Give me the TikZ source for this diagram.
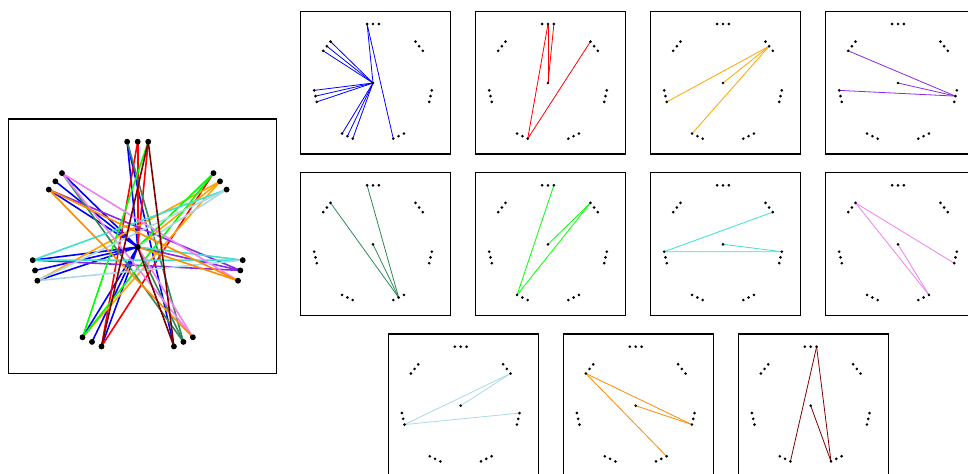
\documentclass[tikz,border=0pt]{standalone}
\definecolor{cBlue}{RGB}{0,0,255}
\definecolor{cRed}{RGB}{255,0,0}
\definecolor{cOrange}{RGB}{255,165,0}
\definecolor{cPurple}{RGB}{138,43,226}
\definecolor{cSea}{RGB}{46,139,87}
\definecolor{cLime}{RGB}{0,255,0}
\definecolor{cTurq}{RGB}{64,224,208}
\definecolor{cViolet}{RGB}{238,130,238}
\definecolor{cLBlue}{RGB}{173,216,230}
\definecolor{cDOrange}{RGB}{255,140,0}
\definecolor{cMaroon}{RGB}{128,0,0}
\tikzset{
  frame/.style={draw=black, line width=0.8pt},
  bigedge/.style={line width=1.2pt},
  smalledge/.style={line width=0.6pt},
}
\def\Eblue{c/60,c/61,c/62,c/50,c/51,c/52,c/40,c/41,c/42,c/00,00/32}
\def\Ered{01/40,01/c,02/c,10/40}
\def\Eorange{11/50,11/c,11/42}
\def\Epurple{21/60,21/c,21/52}
\def\Esea{31/62,31/00,31/c}
\def\Elime{02/42,10/42,10/c}
\def\Eturq{52/12,52/20,c/20}
\def\Eviolet{62/22,62/30,c/30}
\def\Elblue{50/12,50/20,c/12}
\def\Edorange{60/22,60/30,c/22}
\def\Emaroon{02/40,02/32,c/32}
\newcommand\mkpanel[4]{%
  \draw[frame] ({#2-72.5*#4},{#3-71.7*#4}) rectangle ++({150.3*#4},{142.7*#4});
  \coordinate (#1c) at (#2,#3);
  \foreach \k in {0,...,6}{\foreach \j in {0,1,2}{%
    \pgfmathsetmacro\th{90-\k*360/7}%
    \pgfmathsetmacro\dd{(\j-1)*5.9*#4}%
    \coordinate (#1\k\j) at ({#2+59*#4*cos(\th)+\dd*sin(\th)},{#3-59*#4*sin(\th)+\dd*cos(\th)});
  }}%
}
\newcommand\mkedges[4]{%
  \foreach \a/\b in #4 {\draw[#2,#3] (#1\a) -- (#1\b);}%
}
\newcommand\mkdots[2]{%
  \fill (#1c) circle (#2);
  \foreach \k in {0,...,6}{\foreach \j in {0,1,2}{\fill (#1\k\j) circle (#2);}}%
}
\begin{document}
\begin{tikzpicture}[x=0.75pt,y=-0.75pt]
\clip (0,0) rectangle (968,474);
\fill[white] (0,0) rectangle (968,474);
% big panel
\mkpanel{B-}{137.7}{247}{1.785}
\mkedges{B-}{cBlue}{bigedge}{\Eblue}
\mkedges{B-}{cRed}{bigedge}{\Ered}
\mkedges{B-}{cOrange}{bigedge}{\Eorange}
\mkedges{B-}{cPurple}{bigedge}{\Epurple}
\mkedges{B-}{cSea}{bigedge}{\Esea}
\mkedges{B-}{cLime}{bigedge}{\Elime}
\mkedges{B-}{cTurq}{bigedge}{\Eturq}
\mkedges{B-}{cViolet}{bigedge}{\Eviolet}
\mkedges{B-}{cLBlue}{bigedge}{\Elblue}
\mkedges{B-}{cDOrange}{bigedge}{\Edorange}
\mkedges{B-}{cMaroon}{bigedge}{\Emaroon}
\mkdots{B-}{2.2pt}
% small panels
\mkpanel{P1-}{373}{83}{1}
\mkedges{P1-}{cBlue}{smalledge}{\Eblue}
\mkdots{P1-}{1.1pt}
\mkpanel{P2-}{548}{83}{1}
\mkedges{P2-}{cRed}{smalledge}{\Ered}
\mkdots{P2-}{1.1pt}
\mkpanel{P3-}{723}{83}{1}
\mkedges{P3-}{cOrange}{smalledge}{\Eorange}
\mkdots{P3-}{1.1pt}
\mkpanel{P4-}{898}{83}{1}
\mkedges{P4-}{cPurple}{smalledge}{\Epurple}
\mkdots{P4-}{1.1pt}
\mkpanel{P5-}{373}{244.3}{1}
\mkedges{P5-}{cSea}{smalledge}{\Esea}
\mkdots{P5-}{1.1pt}
\mkpanel{P6-}{548}{244.3}{1}
\mkedges{P6-}{cLime}{smalledge}{\Elime}
\mkdots{P6-}{1.1pt}
\mkpanel{P7-}{723}{244.3}{1}
\mkedges{P7-}{cTurq}{smalledge}{\Eturq}
\mkdots{P7-}{1.1pt}
\mkpanel{P8-}{898}{244.3}{1}
\mkedges{P8-}{cViolet}{smalledge}{\Eviolet}
\mkdots{P8-}{1.1pt}
\mkpanel{P9-}{460.7}{405.7}{1}
\mkedges{P9-}{cLBlue}{smalledge}{\Elblue}
\mkdots{P9-}{1.1pt}
\mkpanel{P10-}{635.7}{405.7}{1}
\mkedges{P10-}{cDOrange}{smalledge}{\Edorange}
\mkdots{P10-}{1.1pt}
\mkpanel{P11-}{810.7}{405.7}{1}
\mkedges{P11-}{cMaroon}{smalledge}{\Emaroon}
\mkdots{P11-}{1.1pt}
\end{tikzpicture}
\end{document}
